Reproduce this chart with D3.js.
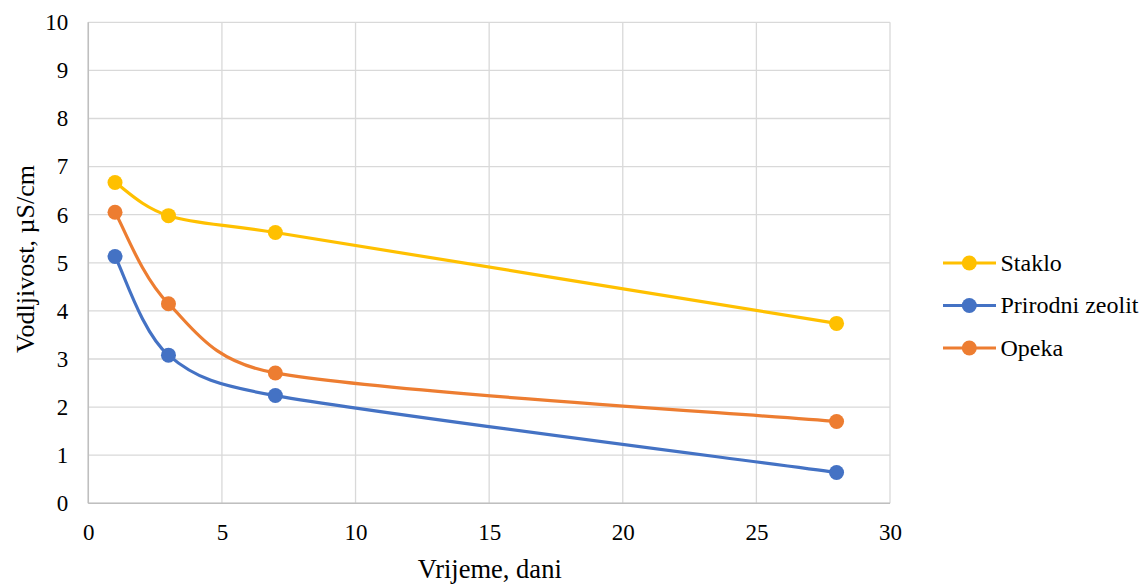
<!DOCTYPE html>
<html><head><meta charset="utf-8">
<script src="https://cdn.jsdelivr.net/npm/d3@7"></script>
<style>body{margin:0;background:#fff}svg{display:block}svg text{font-family:"Liberation Serif","Times New Roman",Times,serif !important;fill:#000}</style>
</head><body><svg id="c" width="1142" height="585"></svg>
<script>
const days = [1, 3, 7, 28];
const staklo = [6.67, 5.98, 5.63, 3.74];
const zeolit = [5.13, 3.08, 2.24, 0.64];
const opeka = [6.05, 4.15, 2.71, 1.70];
const seriesNames = ["Staklo", "Prirodni zeolit", "Opeka"];
const seriesColors = ["#FFC000", "#4472C4", "#ED7D31"];
const xTicks = [0, 5, 10, 15, 20, 25, 30];
const yTicks = [0, 1, 2, 3, 4, 5, 6, 7, 8, 9, 10];

const svg = d3.select("#c");
const x = d3.scaleLinear().domain([0, 30]).range([88.3, 890]);
const y = d3.scaleLinear().domain([0, 10]).range([503.3, 22.3]);

const grid = svg.append("g");
grid.selectAll(".gx").data(xTicks).join("line")
  .attr("x1", d => x(d)).attr("x2", d => x(d)).attr("y1", y(0)).attr("y2", y(10))
  .attr("stroke", "#d9d9d9").attr("stroke-width", 1.3);
grid.selectAll(".gy").data(yTicks).join("line")
  .attr("y1", d => y(d)).attr("y2", d => y(d)).attr("x1", x(0)).attr("x2", x(30))
  .attr("stroke", "#d9d9d9").attr("stroke-width", 1.3);
svg.append("line").attr("x1", x(0)).attr("x2", x(0)).attr("y1", y(0)).attr("y2", y(10)).attr("stroke", "#bfbfbf").attr("stroke-width", 1.5);
svg.append("line").attr("x1", x(0)).attr("x2", x(30)).attr("y1", y(0)).attr("y2", y(0)).attr("stroke", "#bfbfbf").attr("stroke-width", 1.5);

const xAxis = svg.append("g").attr("transform", `translate(0,${y(0)})`)
  .call(d3.axisBottom(x).tickValues(xTicks).tickSize(0).tickPadding(20).tickFormat(d3.format("d")));
xAxis.attr("font-family", null).attr("font-size", null);
xAxis.select(".domain").remove();
xAxis.selectAll("text").attr("font-size", 23);
const yAxis = svg.append("g").attr("transform", `translate(${x(0)},0)`)
  .call(d3.axisLeft(y).tickValues(yTicks).tickSize(0).tickPadding(20).tickFormat(d3.format("d")));
yAxis.attr("font-family", null).attr("font-size", null);
yAxis.select(".domain").remove();
yAxis.selectAll("text").attr("font-size", 23);

// Excel-like smoothed line: cardinal Bezier with arm (P2-P0)/6, capped at half the segment length
function smoothPath(pts) {
  const p = d3.path();
  const n = pts.length;
  const dist = (a, b) => Math.hypot(b[0] - a[0], b[1] - a[1]);
  p.moveTo(pts[0][0], pts[0][1]);
  for (let i = 0; i < n - 1; i++) {
    const p0 = pts[Math.max(0, i - 1)], p1 = pts[i], p2 = pts[i + 1], p3 = pts[Math.min(n - 1, i + 2)];
    const d12 = dist(p1, p2);
    let ax = (p2[0] - p0[0]) / 6, ay = (p2[1] - p0[1]) / 6;
    let la = Math.hypot(ax, ay);
    if (la > d12 / 2) { ax *= d12 / 2 / la; ay *= d12 / 2 / la; }
    let bx = (p3[0] - p1[0]) / 6, by = (p3[1] - p1[1]) / 6;
    let lb = Math.hypot(bx, by);
    if (lb > d12 / 2) { bx *= d12 / 2 / lb; by *= d12 / 2 / lb; }
    p.bezierCurveTo(p1[0] + ax, p1[1] + ay, p2[0] - bx, p2[1] - by, p2[0], p2[1]);
  }
  return p.toString();
}

const allSeries = [staklo, zeolit, opeka];
allSeries.forEach((vals, i) => {
  const pts = days.map((d, j) => [x(d), y(vals[j])]);
  svg.append("path").attr("d", smoothPath(pts)).attr("fill", "none")
    .attr("stroke", seriesColors[i]).attr("stroke-width", 3.2);
  svg.selectAll(null).data(days.map((d, j) => [d, vals[j]])).join("circle")
    .attr("cx", d => x(d[0])).attr("cy", d => y(d[1])).attr("r", 7.5)
    .attr("fill", seriesColors[i]);
});

const lg = svg.append("g");
seriesNames.forEach((n, i) => {
  const ly = 263 + i * 42.5;
  lg.append("line").attr("x1", 943).attr("x2", 996).attr("y1", ly).attr("y2", ly)
    .attr("stroke", seriesColors[i]).attr("stroke-width", 3.2);
  lg.append("circle").attr("cx", 969.3).attr("cy", ly).attr("r", 7.5).attr("fill", seriesColors[i]);
  lg.append("text").attr("x", 1000.5).attr("y", ly).attr("dy", "0.33em")
    .attr("font-size", 24).text(n);
});

svg.append("text").attr("x", 489.7).attr("y", 578).attr("text-anchor", "middle")
  .attr("font-size", 26.5).text("Vrijeme, dani");
svg.append("text").attr("transform", `translate(33.5,259) rotate(-90)`)
  .attr("text-anchor", "middle").attr("font-size", 26).text("Vodljivost, µS/cm");
</script></body></html>
